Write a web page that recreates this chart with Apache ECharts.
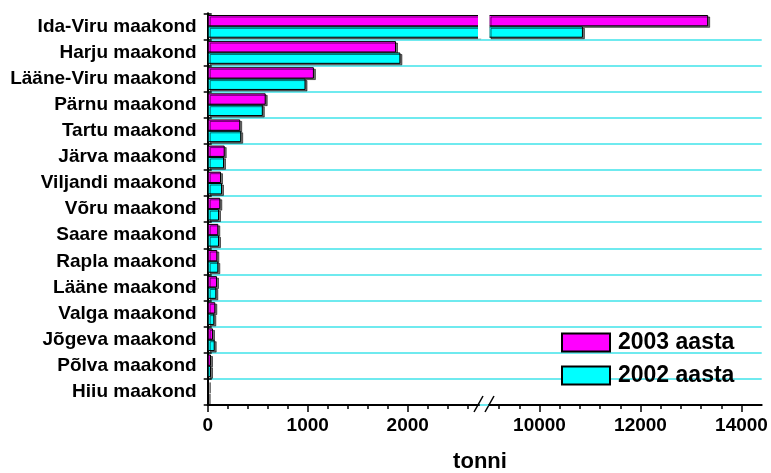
<!DOCTYPE html>
<html>
<head>
<meta charset="utf-8">
<script src="https://cdn.jsdelivr.net/npm/echarts@6/dist/echarts.min.js"></script>
<style>html,body{margin:0;padding:0;background:#fff}#c{width:771px;height:473px}</style>
</head>
<body>
<div id="c"></div>
<script>
var categories = ['Ida-Viru maakond','Harju maakond','Lääne-Viru maakond','Pärnu maakond','Tartu maakond','Järva maakond','Viljandi maakond','Võru maakond','Saare maakond','Rapla maakond','Lääne maakond','Valga maakond','Jõgeva maakond','Põlva maakond','Hiiu maakond'];
var values2003 = [13340, 1883, 1062, 580, 325, 170, 133, 126, 106, 96, 93, 76, 53, 33, 8];
var values2002 = [10860, 1927, 978, 551, 335, 163, 143, 113, 113, 106, 86, 66, 70, 33, 5];
var leftMinorTicks = [0,200,400,600,800,1000,1200,1400,1600,1800,2000,2200,2400,2600];
var leftMajorTicks = [0,1000,2000];
var rightMinorTicks = [9200,9600,10000,10400,10800,11200,11600,12000,12400,12800,13200,13600,14000];
var rightMajorTicks = [10000,12000,14000];
var leftRange = [0, 2713];
var rightRange = [9000, 14400];
var seriesNames = ['2003 aasta','2002 aasta'];

var FONT = 'Liberation Sans';
var GT = 13.3, GH = 391.7;
function rightData(arr){ return arr.map(function(v){ return v >= rightRange[0] ? v : '-'; }); }
var barStyle = function(c){ return {color:c, borderColor:'#000', borderWidth:1, shadowColor:'rgba(0,0,0,0.55)', shadowOffsetX:2, shadowOffsetY:1.5, shadowBlur:0}; };
var colors = ['#ff00ff','#00ffff'];

function hiddenCat(gi){ return {gridIndex:gi, type:'category', inverse:true, data:categories, show:false}; }
function valAxis(gi, range, ticks, len, labels, line){
  return {gridIndex:gi, type:'value', position:'bottom', min:range[0], max:range[1],
    axisLine:{show:line, lineStyle:{color:'#000', width:2}},
    axisTick:{show:true, customValues:ticks, length:len, lineStyle:{color:'#000', width:1.5}},
    axisLabel:labels ? {show:true, customValues:labels, formatter:function(v){ return String(v); }, color:'#000', fontFamily:FONT, fontWeight:'bold', fontSize:19, margin:11} : {show:false},
    splitLine:{show:false}};
}

var chart = echarts.init(document.getElementById('c'), null, {renderer:'canvas'});
chart.setOption({
  animation:false,
  backgroundColor:'#fff',
  grid:[
    {left:207.7, top:GT, width:554, height:GH},
    {left:207.7, top:GT, width:271.3, height:GH},
    {left:489, top:GT, width:272.7, height:GH}
  ],
  xAxis:[
    {gridIndex:0, type:'value', min:0, max:1, show:false},
    valAxis(1, leftRange, leftMinorTicks, 4, null, true),
    valAxis(1, leftRange, leftMajorTicks, 7, leftMajorTicks, false),
    valAxis(2, rightRange, rightMinorTicks, 4, null, true),
    valAxis(2, rightRange, rightMajorTicks, 7, rightMajorTicks, false)
  ],
  yAxis:[
    {gridIndex:0, type:'category', inverse:true, data:categories, position:'left',
      axisLine:{show:true, lineStyle:{color:'#000', width:2}},
      axisTick:{show:true, length:4, lineStyle:{color:'#000', width:1.5}},
      axisLabel:{color:'#000', fontFamily:FONT, fontWeight:'bold', fontSize:19, margin:11},
      splitLine:{show:true, interval:function(i){ return i !== 0; }, lineStyle:{color:'#3fe3ea', width:1.5}}},
    {gridIndex:0, type:'category', inverse:true, data:categories, position:'left',
      axisLine:{show:false}, axisTick:{show:true, inside:true, length:4, lineStyle:{color:'#000', width:1.5}},
      axisLabel:{show:false}, splitLine:{show:false}},
    hiddenCat(1), hiddenCat(2)
  ],
  legend:{orient:'vertical', left:561, top:331, padding:0, itemWidth:48, itemHeight:18, itemGap:10,
    data:seriesNames, icon:'rect',
    textStyle:{color:'#000', fontFamily:FONT, fontWeight:'bold', fontSize:23, padding:[0,0,0,3]}},
  series:[
    {name:seriesNames[0], type:'bar', xAxisIndex:1, yAxisIndex:2, data:values2003, clip:true, barGap:'0%', barCategoryGap:'13%', itemStyle:barStyle(colors[0])},
    {name:seriesNames[1], type:'bar', xAxisIndex:1, yAxisIndex:2, data:values2002, clip:true, barGap:'0%', barCategoryGap:'13%', itemStyle:barStyle(colors[1])},
    {name:seriesNames[0], type:'bar', xAxisIndex:3, yAxisIndex:3, data:rightData(values2003), clip:true, barGap:'0%', barCategoryGap:'13%', itemStyle:barStyle(colors[0])},
    {name:seriesNames[1], type:'bar', xAxisIndex:3, yAxisIndex:3, data:rightData(values2002), clip:true, barGap:'0%', barCategoryGap:'13%', itemStyle:barStyle(colors[1])}
  ],
  graphic:[
    {type:'rect', shape:{x:478, y:14.2, width:11.5, height:24.6}, style:{fill:'#fff'}, z:100},
    {type:'line', shape:{x1:474, y1:412, x2:483, y2:396}, style:{stroke:'#000', lineWidth:1.5}},
    {type:'line', shape:{x1:485, y1:412, x2:494, y2:396}, style:{stroke:'#000', lineWidth:1.5}},
    {type:'text', x:480, y:462, style:{text:'tonni', fill:'#000', font:'bold 22px "Liberation Sans"', textAlign:'center', textVerticalAlign:'middle'}}
  ]
});
</script>
</body>
</html>
